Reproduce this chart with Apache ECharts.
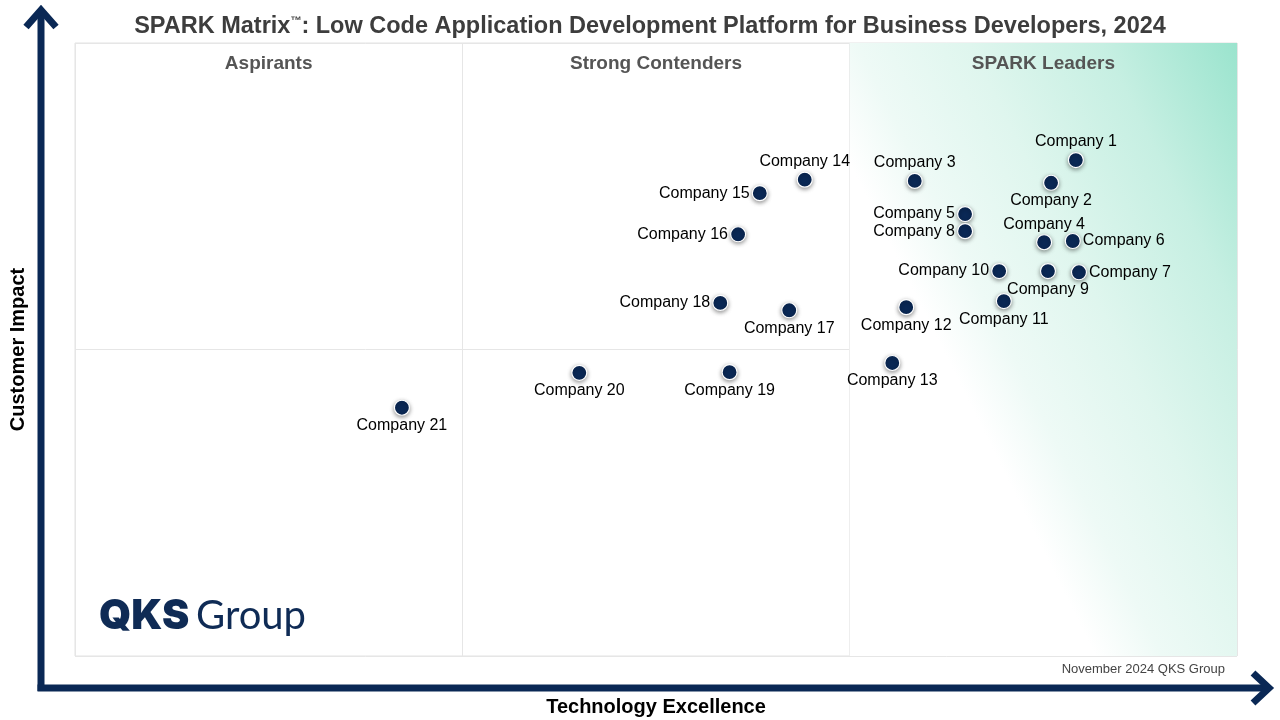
<!DOCTYPE html>
<html>
  <head>
    <meta charset="utf-8">
    <title>SPARK Matrix 2024</title>
    <script src="https://cdn.jsdelivr.net/npm/echarts@6/dist/echarts.min.js" charset="utf-8"></script>
    <style>
      html, body { margin: 0; padding: 0; background: #fff; }
      #main { width: 1280px; height: 720px; }
    </style>
  </head>
  <body>
    <div id="main"></div>
    <script type="text/javascript">
      // vendors and their scores (x = technology excellence, y = customer impact)
      var companies = ['Company 1', 'Company 2', 'Company 3', 'Company 4', 'Company 5', 'Company 6', 'Company 7',
        'Company 8', 'Company 9', 'Company 10', 'Company 11', 'Company 12', 'Company 13', 'Company 14',
        'Company 15', 'Company 16', 'Company 17', 'Company 18', 'Company 19', 'Company 20', 'Company 21'];
      var techScore = [12.92, 12.60, 10.84, 12.51, 11.49, 12.88, 12.96, 11.49, 12.56, 11.93, 11.99,
        10.73, 10.55, 9.42, 8.84, 8.56, 9.22, 8.33, 8.45, 6.51, 4.22];
      var impactScore = [8.09, 7.72, 7.75, 6.75, 7.21, 6.77, 6.26, 6.93, 6.28, 6.28, 5.79,
        5.69, 4.78, 7.77, 7.55, 6.88, 5.64, 5.76, 4.63, 4.62, 4.05];
      // which side of the dot the name sits on
      var labelSide = ['top', 'bottom', 'top', 'top', 'left', 'right', 'right', 'left', 'bottom', 'left', 'bottom',
        'bottom', 'bottom', 'top', 'left', 'left', 'bottom', 'left', 'bottom', 'bottom', 'bottom'];
      var zones = ['Aspirants', 'Strong Contenders', 'SPARK Leaders'];
      var zoneEdges = [0, 5, 10, 15];

      var navy = '#0a2855';
      var myChart = echarts.init(document.getElementById('main'));

      var points = [];
      for (var i = 0; i < companies.length; i++) {
        points.push({
          name: companies[i],
          value: [techScore[i], impactScore[i]],
          label: { position: labelSide[i] }
        });
      }

      var areas = [];
      for (var k = 0; k < zones.length; k++) {
        var area = [
          { name: zones[k], xAxis: zoneEdges[k], yAxis: 0 },
          { xAxis: zoneEdges[k + 1], yAxis: 10 }
        ];
        if (k == 2) {
          // leaders column fades from the top right corner
          area[0].itemStyle = {
            color: {
              type: 'linear', x: 0.24, y: 0.5, x2: 1.16, y2: 0.21,
              colorStops: [
                { offset: 0, color: '#ffffff' },
                { offset: 0.15, color: '#eefaf6' },
                { offset: 0.4, color: '#dff6ee' },
                { offset: 0.7, color: '#c6efe2' },
                { offset: 1, color: '#9be4ce' }
              ]
            }
          };
        }
        areas.push(area);
      }

      option = {
        backgroundColor: '#ffffff',
        textStyle: { fontFamily: 'Liberation Sans, Arial, sans-serif' },
        title: {
          text: '{a|SPARK Matrix}{tm|\u2122}{a|: Low Code Application Development Platform for Business Developers, 2024}',
          left: 645,
          top: 10,
          textAlign: 'center',
          textStyle: {
            rich: {
              a: { fontSize: 23.5, fontWeight: 'bold', color: '#3d3d3d', fontFamily: 'Liberation Sans' },
              tm: { fontSize: 11, fontWeight: 'bold', color: '#3d3d3d', fontFamily: 'Liberation Sans', verticalAlign: 'top' }
            }
          }
        },
        grid: {
          left: 75, right: 43, top: 43, bottom: 64,
          outerBoundsMode: 'none',
          containLabel: false,
          show: true, borderColor: '#e2e2e2', borderWidth: 1
        },
        xAxis: {
          type: 'value', min: 0, max: 15, interval: 5,
          name: 'Technology Excellence', nameLocation: 'middle', nameGap: 41,
          nameTextStyle: { fontSize: 20, fontWeight: 'bold', color: '#000' },
          axisLine: { show: false }, axisTick: { show: false }, axisLabel: { show: false },
          splitLine: { show: true, lineStyle: { color: '#e6e6e6', width: 1 } }
        },
        yAxis: {
          type: 'value', min: 0, max: 10, interval: 5,
          name: 'Customer Impact', nameLocation: 'middle', nameGap: 47, nameRotate: 90,
          nameTextStyle: { fontSize: 20, fontWeight: 'bold', color: '#000' },
          axisLine: { show: false }, axisTick: { show: false }, axisLabel: { show: false },
          splitLine: { show: true, lineStyle: { color: '#e6e6e6', width: 1 } }
        },
        series: [{
          type: 'scatter',
          symbolSize: 15,
          itemStyle: {
            color: navy, opacity: 1, borderColor: '#ffffff', borderWidth: 1.2,
            shadowBlur: 4, shadowColor: 'rgba(0,0,0,0.4)', shadowOffsetY: 1.5
          },
          label: {
            show: true, formatter: '{b}', distance: 2,
            fontSize: 16, color: '#000'
          },
          markArea: {
            silent: true,
            itemStyle: { color: 'rgba(0,0,0,0)' },
            label: {
              position: 'insideTop', distance: 11,
              fontSize: 19, fontWeight: 'bold', color: '#555'
            },
            data: areas
          },
          data: points,
          z: 5
        }],
        graphic: [
          // axis arrows
          { type: 'line', shape: { x1: 41, y1: 14, x2: 41, y2: 691 }, style: { stroke: navy, lineWidth: 7 }, z: 10 },
          { type: 'polyline', shape: { points: [[26, 27], [41, 10], [56, 27]] }, style: { stroke: navy, lineWidth: 7, fill: null }, z: 10 },
          { type: 'line', shape: { x1: 37.5, y1: 688, x2: 1265, y2: 688 }, style: { stroke: navy, lineWidth: 7 }, z: 10 },
          { type: 'polyline', shape: { points: [[1253, 673], [1269, 688], [1253, 703]] }, style: { stroke: navy, lineWidth: 7, fill: null }, z: 10 },
          // footer note
          { type: 'text', right: 55, top: 663, style: { text: 'November 2024 QKS Group', fontSize: 13, fill: '#444', fontFamily: 'Liberation Sans' } },
          // logo
          { type: 'text', left: 99, top: 596, style: { text: 'QKS', fontSize: 41, fontWeight: 900, fill: '#0f2b55', fontFamily: 'Inter' } },
          { type: 'text', left: 196, top: 596, style: { text: 'Group', fontSize: 40, fontWeight: 'normal', fill: '#0f2b55', fontFamily: 'Lato' } }
        ]
      };
      myChart.setOption(option);
    </script>
  </body>
</html>
